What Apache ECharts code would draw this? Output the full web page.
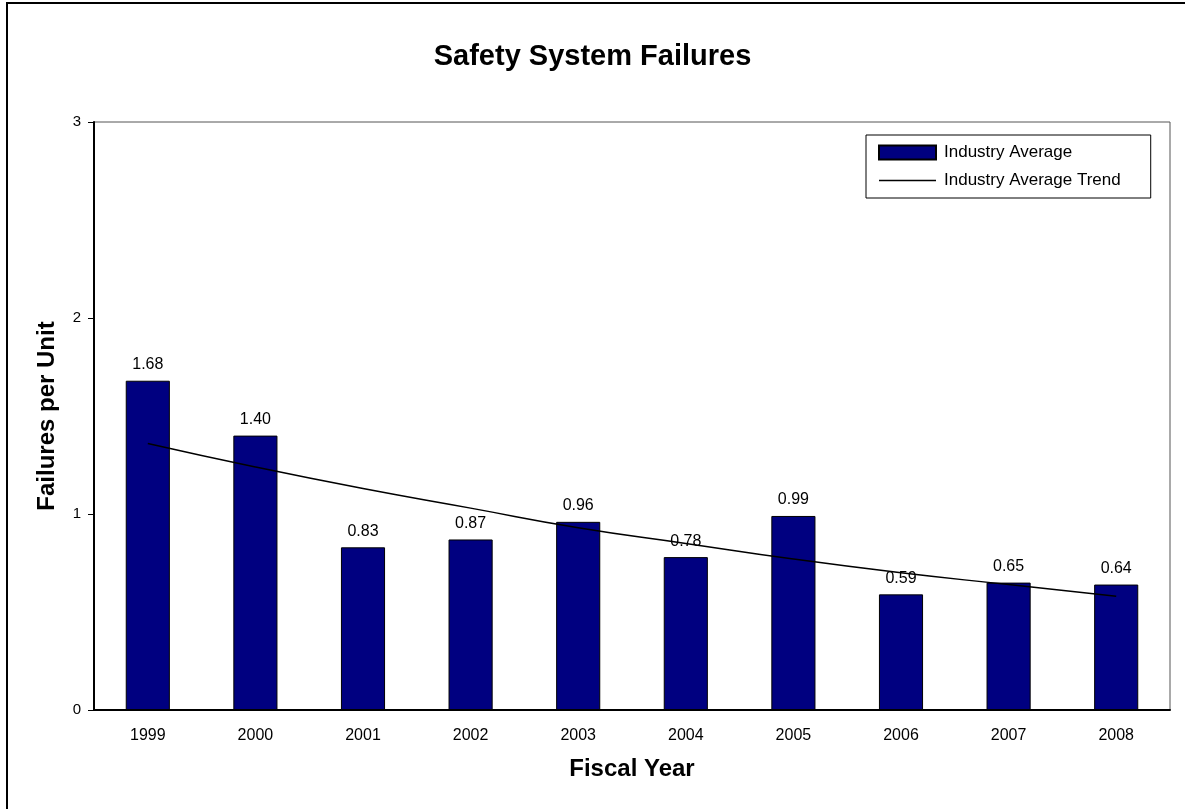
<!DOCTYPE html>
<html>
<head>
<meta charset="utf-8">
<script src="https://cdn.jsdelivr.net/npm/echarts@6/dist/echarts.min.js"></script>
<style>
html,body{margin:0;padding:0;background:#fff;}
#chart{width:1185px;height:809px;}
</style>
</head>
<body>
<div id="chart"></div>
<script>
const years = ['1999','2000','2001','2002','2003','2004','2005','2006','2007','2008'];
const industryAverage = [1.68, 1.40, 0.83, 0.87, 0.96, 0.78, 0.99, 0.59, 0.65, 0.64];
const industryTrend = [1.36, 1.24, 1.13, 1.03, 0.93, 0.85, 0.77, 0.70, 0.64, 0.58];
const yTicks = [0, 1, 2, 3];

const FONT = '"Liberation Sans", Arial, sans-serif';
const chart = echarts.init(document.getElementById('chart'));
chart.setOption({
  animation: false,
  backgroundColor: '#fff',
  textStyle: { fontFamily: FONT, color: '#000' },
  title: {
    text: 'Safety System Failures',
    left: 'center',
    top: 37,
    textStyle: { fontFamily: FONT, fontSize: 29, fontWeight: 'bold', color: '#000' }
  },
  graphic: [{
    type: 'rect',
    shape: { x: 7, y: 3, width: 1300, height: 1000 },
    style: { fill: 'none', stroke: '#000', lineWidth: 2 },
    silent: true, z: -1
  }],
  legend: {
    orient: 'vertical',
    left: 866,
    top: 135,
    padding: [9, 30, 9, 12],
    itemGap: 11,
    itemWidth: 57,
    itemHeight: 14,
    borderColor: '#000',
    borderWidth: 1,
    textStyle: { fontFamily: FONT, fontSize: 17, color: '#000', padding: [0, 0, 0, 3] },
    data: [
      { name: 'Industry Average', icon: 'rect' },
      { name: 'Industry Average Trend', icon: 'path://M0,0 L100,0 L100,2.2 L0,2.2 Z' }
    ]
  },
  grid: {
    left: 94, right: 15, top: 122, bottom: 99,
    show: true, borderColor: '#555', borderWidth: 1, containLabel: false
  },
  xAxis: {
    type: 'category',
    data: years,
    name: 'Fiscal Year',
    nameLocation: 'middle',
    nameGap: 47,
    nameTextStyle: { fontFamily: FONT, fontSize: 24, fontWeight: 'bold', color: '#000' },
    axisLine: { show: true, lineStyle: { color: '#000', width: 2 } },
    axisTick: { show: false },
    axisLabel: { fontFamily: FONT, fontSize: 16, color: '#000', margin: 18 },
    splitLine: { show: false }
  },
  yAxis: {
    type: 'value',
    min: yTicks[0],
    max: yTicks[yTicks.length - 1],
    interval: 1,
    name: 'Failures per Unit',
    nameLocation: 'middle',
    nameGap: 35,
    nameTextStyle: { fontFamily: FONT, fontSize: 24, fontWeight: 'bold', color: '#000' },
    axisLine: { show: true, lineStyle: { color: '#000', width: 2 } },
    axisTick: { show: true, inside: false, length: 6, lineStyle: { color: '#000', width: 1 } },
    axisLabel: { fontFamily: FONT, fontSize: 15, color: '#000', margin: 13 },
    splitLine: { show: false }
  },
  series: [
    {
      name: 'Industry Average',
      type: 'bar',
      data: industryAverage,
      barWidth: '41%',
      itemStyle: { color: '#000080', borderColor: '#000', borderWidth: 1 },
      label: {
        show: true, position: 'top', distance: 8,
        fontFamily: FONT, fontSize: 16, color: '#000',
        formatter: p => p.value.toFixed(2)
      },
      z: 2
    },
    {
      name: 'Industry Average Trend',
      type: 'line',
      data: industryTrend,
      smooth: true,
      symbol: 'none',
      lineStyle: { color: '#000', width: 1.5 },
      itemStyle: { color: '#000' },
      z: 3
    }
  ]
});
</script>
</body>
</html>
